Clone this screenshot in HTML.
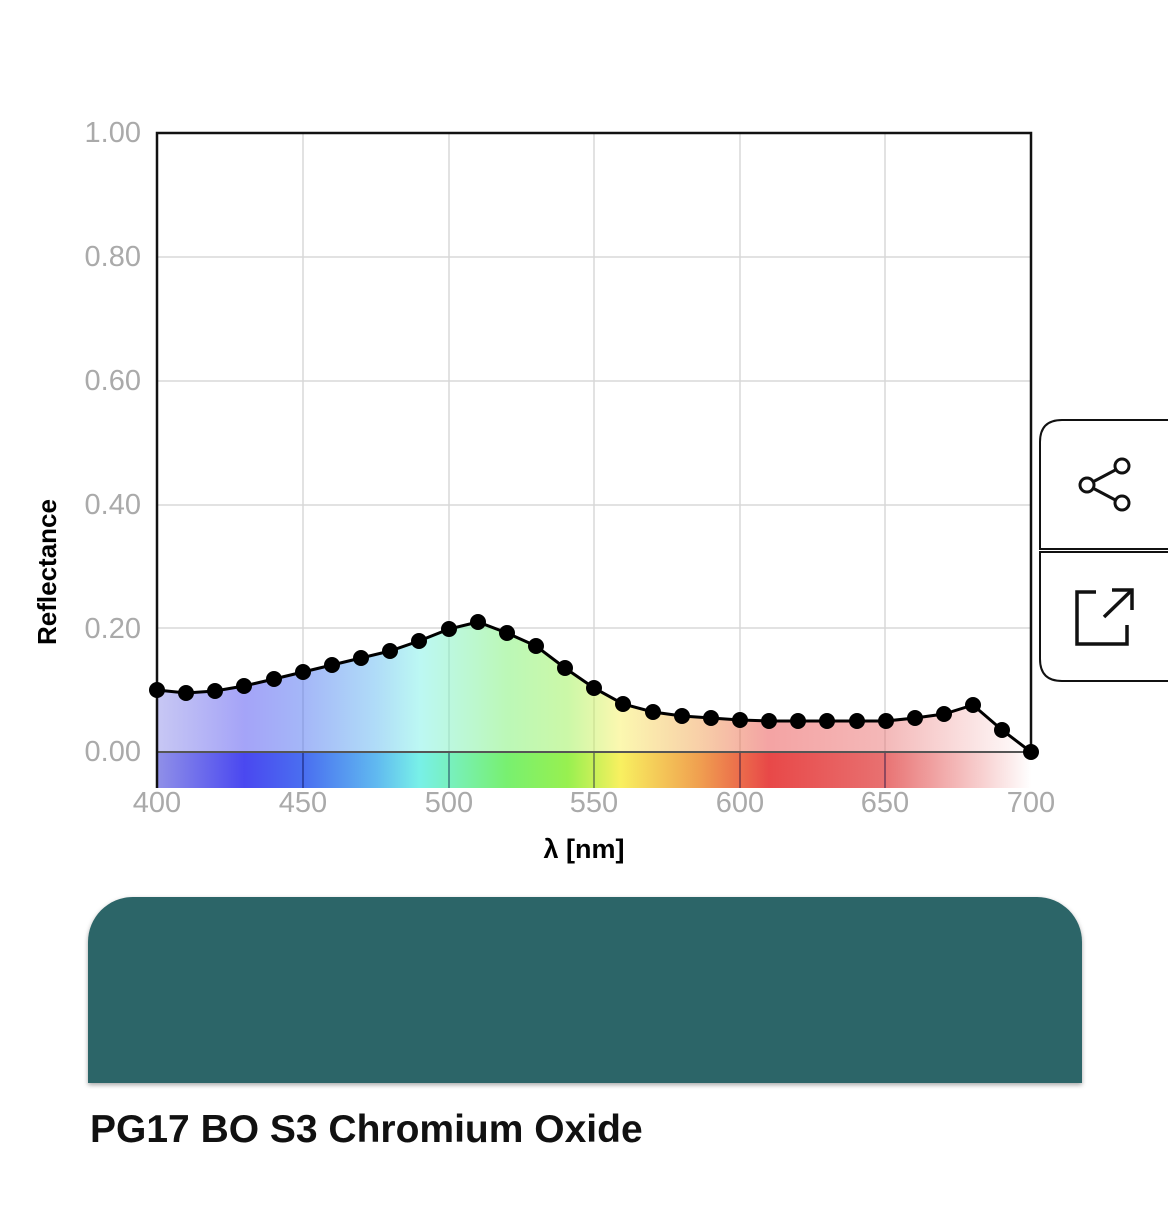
<!DOCTYPE html>
<html><head><style>
body{margin:0;width:1170px;height:1229px;background:#fff;overflow:hidden;font-family:"Liberation Sans",sans-serif;}
</style></head><body>
<svg width="1170" height="1229" style="position:absolute;left:0;top:0">
<defs>
<linearGradient id="sp" x1="157" x2="1031" y1="0" y2="0" gradientUnits="userSpaceOnUse">
<stop offset="0" stop-color="#9090e8"/>
<stop offset="0.1" stop-color="#4a48f0"/>
<stop offset="0.17" stop-color="#4a70f0"/>
<stop offset="0.25" stop-color="#60b8f0"/>
<stop offset="0.3" stop-color="#78f0e8"/>
<stop offset="0.4" stop-color="#78f070"/>
<stop offset="0.47" stop-color="#98f050"/>
<stop offset="0.53" stop-color="#f8f060"/>
<stop offset="0.62" stop-color="#f0a050"/>
<stop offset="0.7" stop-color="#e84848"/>
<stop offset="0.83" stop-color="#e87070"/>
<stop offset="1" stop-color="#ffffff"/>
</linearGradient>
</defs>
<g stroke="#d8d8d8" stroke-width="1.5">
<line x1="157" x2="1031" y1="257" y2="257"/><line x1="157" x2="1031" y1="381" y2="381"/>
<line x1="157" x2="1031" y1="505" y2="505"/><line x1="157" x2="1031" y1="628" y2="628"/>
<line x1="303" x2="303" y1="133" y2="788"/><line x1="449" x2="449" y1="133" y2="788"/>
<line x1="594" x2="594" y1="133" y2="788"/><line x1="740" x2="740" y1="133" y2="788"/>
<line x1="885" x2="885" y1="133" y2="788"/>
</g>
<polygon fill="url(#sp)" opacity="0.5" points="157,752 157,690 186,693 215,691 244,686 274,679 303,672 332,665 361,658 390,651 419,641 449,629 478,622 507,633 536,646 565,668 594,688 623,704 653,712 682,716 711,718 740,720 769,721 798,721 827,721 857,721 886,721 915,718 944,714 973,705 1002,730 1031,752"/>
<rect x="157" y="752" width="874" height="36" fill="url(#sp)"/>
<g stroke="rgba(0,0,60,0.5)" stroke-width="1.5">
<line x1="303" x2="303" y1="752" y2="788"/><line x1="449" x2="449" y1="752" y2="788"/>
<line x1="594" x2="594" y1="752" y2="788"/><line x1="740" x2="740" y1="752" y2="788"/>
<line x1="885" x2="885" y1="752" y2="788"/>
</g>
<line x1="157" x2="1031" y1="752" y2="752" stroke="#555" stroke-width="2"/>
<path d="M157 788 V133 H1031 V752" fill="none" stroke="#111" stroke-width="2.5"/>
<polyline fill="none" stroke="#000" stroke-width="3" points="157,690 186,693 215,691 244,686 274,679 303,672 332,665 361,658 390,651 419,641 449,629 478,622 507,633 536,646 565,668 594,688 623,704 653,712 682,716 711,718 740,720 769,721 798,721 827,721 857,721 886,721 915,718 944,714 973,705 1002,730 1031,752"/>
<g fill="#000">
<circle cx="157" cy="690" r="8"/><circle cx="186" cy="693" r="8"/><circle cx="215" cy="691" r="8"/><circle cx="244" cy="686" r="8"/><circle cx="274" cy="679" r="8"/><circle cx="303" cy="672" r="8"/><circle cx="332" cy="665" r="8"/><circle cx="361" cy="658" r="8"/><circle cx="390" cy="651" r="8"/><circle cx="419" cy="641" r="8"/><circle cx="449" cy="629" r="8"/><circle cx="478" cy="622" r="8"/><circle cx="507" cy="633" r="8"/><circle cx="536" cy="646" r="8"/><circle cx="565" cy="668" r="8"/><circle cx="594" cy="688" r="8"/><circle cx="623" cy="704" r="8"/><circle cx="653" cy="712" r="8"/><circle cx="682" cy="716" r="8"/><circle cx="711" cy="718" r="8"/><circle cx="740" cy="720" r="8"/><circle cx="769" cy="721" r="8"/><circle cx="798" cy="721" r="8"/><circle cx="827" cy="721" r="8"/><circle cx="857" cy="721" r="8"/><circle cx="886" cy="721" r="8"/><circle cx="915" cy="718" r="8"/><circle cx="944" cy="714" r="8"/><circle cx="973" cy="705" r="8"/><circle cx="1002" cy="730" r="8"/><circle cx="1031" cy="752" r="8"/>
</g>
<g fill="#aaa" font-size="29" text-anchor="end" font-family="Liberation Sans,sans-serif">
<text x="141" y="142">1.00</text><text x="141" y="266">0.80</text><text x="141" y="390">0.60</text>
<text x="141" y="514">0.40</text><text x="141" y="638">0.20</text><text x="141" y="761">0.00</text>
</g>
<g fill="#aaa" font-size="29" text-anchor="middle" font-family="Liberation Sans,sans-serif">
<text x="157" y="812">400</text><text x="303" y="812">450</text><text x="449" y="812">500</text>
<text x="594" y="812">550</text><text x="740" y="812">600</text><text x="885" y="812">650</text><text x="1031" y="812">700</text>
</g>
<text x="584" y="858" font-size="27" font-weight="bold" text-anchor="middle">λ [nm]</text>
<text transform="translate(56,572) rotate(-90)" font-size="26" font-weight="bold" text-anchor="middle">Reflectance</text>
<path d="M1168 420 H1062 Q1040 420 1040 442 V549 H1168" fill="#fff" stroke="#111" stroke-width="2"/>
<path d="M1168 552 H1040 V659 Q1040 681 1062 681 H1168" fill="#fff" stroke="#111" stroke-width="2"/>
<g fill="none" stroke="#111" stroke-width="3">
<line x1="1087" y1="485" x2="1121" y2="467"/><line x1="1087" y1="485" x2="1121" y2="503"/>
<circle cx="1087" cy="485" r="7" fill="#fff"/><circle cx="1122" cy="466" r="7" fill="#fff"/><circle cx="1122" cy="503" r="7" fill="#fff"/>
<path d="M1096 592 H1077 V644 H1127 V625" stroke-width="3.5"/>
<line x1="1104" y1="617" x2="1132" y2="590" stroke-width="3.5"/>
<path d="M1112 590 H1132 V610" stroke-width="3.5"/>
</g>
</svg>
<div style="position:absolute;left:88px;top:897px;width:994px;height:186px;background:#2c6568;border-radius:45px 45px 0 0;box-shadow:0 2px 5px rgba(0,0,0,0.35)"></div>
<div style="position:absolute;left:90px;top:1108px;font-size:39px;font-weight:bold;color:#111">PG17 BO S3 Chromium Oxide</div>
</body></html>
